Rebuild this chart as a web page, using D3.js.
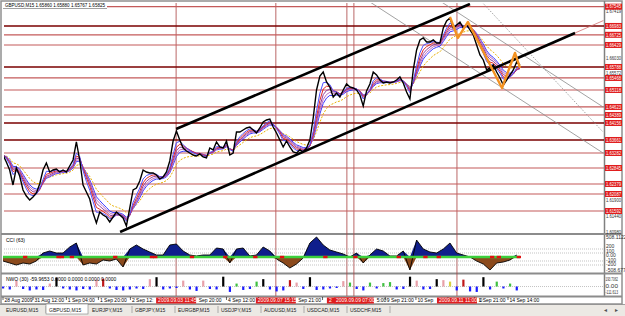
<!DOCTYPE html>
<html>
<head>
<meta charset="utf-8">
<title>GBPUSD,M15</title>
<script src="https://cdn.jsdelivr.net/npm/d3@7"></script>
<style>
    body { margin: 0; background: #fff; }
    svg text { font-family: "Liberation Sans", Arial, sans-serif; font-size: 5px; }
</style>
</head>
<body>
<div id="chart"></div>
<script>
// closes, one sample every ~6-7 M15 bars
let closes = [
    1.63224, 1.63020, 1.62787, 1.62350, 1.62845, 1.62612, 1.62204, 1.62029, 1.61912, 1.62000,
    1.62116, 1.62379, 1.62787, 1.62991, 1.62728, 1.62787, 1.62816, 1.62728, 1.62787, 1.62728,
    1.62903, 1.63078, 1.63603, 1.63078, 1.62350, 1.62146, 1.61942, 1.61534, 1.61242, 1.61563,
    1.61475, 1.61417, 1.61271, 1.61417, 1.61563, 1.61475, 1.61388, 1.61155, 1.61679, 1.62204,
    1.62262, 1.62466, 1.62787, 1.62728, 1.62699, 1.62699, 1.62641, 1.62524, 1.62583, 1.62728,
    1.63049, 1.63632, 1.63923, 1.63661, 1.63428, 1.63340, 1.63282, 1.63224, 1.63195, 1.63253,
    1.63166, 1.63136, 1.63428, 1.63370, 1.63603, 1.63457, 1.63428, 1.63632, 1.63224, 1.63282,
    1.63894, 1.63894, 1.63952, 1.64011, 1.64040, 1.63952, 1.63865, 1.64011, 1.64185, 1.64244,
    1.64273, 1.64040, 1.63865, 1.63661, 1.63457, 1.63632, 1.63457, 1.63311, 1.63282, 1.63370,
    1.63311, 1.63428, 1.63661, 1.64302, 1.65118, 1.65526, 1.65642, 1.65351, 1.65205, 1.64914,
    1.65030, 1.64914, 1.65118, 1.65293, 1.65205, 1.65176, 1.65118, 1.64972, 1.64652, 1.65089,
    1.65293, 1.65642, 1.65555, 1.65409, 1.65322, 1.65351, 1.65322, 1.65351, 1.65409, 1.65497,
    1.65322, 1.65060, 1.64856, 1.65701, 1.66284, 1.66575, 1.66633, 1.66517, 1.66517, 1.66575,
    1.66487, 1.66487, 1.66925, 1.67129, 1.67216, 1.66925, 1.67012, 1.67099, 1.66925, 1.67012,
    1.66866, 1.66721, 1.66429, 1.66138, 1.65992, 1.65701, 1.65759, 1.65846, 1.65642, 1.65468,
    1.65264, 1.65409, 1.65555, 1.65701, 1.65934, 1.65846
]

// CCI(63), every second sample
let cciVals = [
    -100, -150, -200, -150, -175, -100, 100, 150, 100, 100,
    250, 350, -200, -150, -175, -75, -100, -50, -250, 200,
    300, 200, 125, 50, 50, 300, 325, 150, 50, 25,
    50, 50, 225, 200, -150, 200, 225, 25, 50, 250,
    150, -50, -150, -275, -175, -25, 350, 500, 300, 175,
    125, 75, 0, 100, -150, 50, 200, 150, 25, 25,
    150, -325, 425, 200, 125, 100, 200, 350, 100, 50,
    0, -100, -175, -325, -150, -125, -75, 50
]
// samples where the CCI base line turns red
let cciRed = [6, 16, 17, 20, 33, 44, 45, 56, 66, 75, 83, 96, 105, 118, 126, 130, 146, 148, 154]

// NWO(30), every second sample, with bar state (b down, g up, p pink, k black, r red, y yellow)
let nwoVals = [
    -40, -60, 120, -50, -80, -60, -70, 60, 180, -40,
    -60, -80, -50, -60, 140, 160, -40, -70, -80, -60,
    -40, -50, 150, 190, -60, -40, -30, 120, -60, -90,
    120, -50, -60, 200, -110, 60, -70, -50, 100, 150,
    -60, -100, -80, 130, 80, -50, 190, -70, -60, -40,
    -30, 110, 80, -50, -80, 80, -40, 70, 90, -60,
    -50, 200, 120, -60, -50, 150, 130, 100, -80, 140,
    -100, -110, 190, -60, 100, -40, 60, -80
]
let nwoState = "bbpbbbbpkbbbbbprbbbbbbpkbbbpbbpbbkbgbbgkbbbrpbkbbbbpgbbgbggbbkpbbkpybrbbkbgbgb".split("")

// support / resistance levels
let levelPrices = [1.67545, 1.66983, 1.66725, 1.66429, 1.65788, 1.65468, 1.65118, 1.64623,
    1.64389, 1.64156, 1.63661, 1.63282, 1.62845, 1.62379, 1.62087, 1.61592]
let strongLevels = [1.66983, 1.65788, 1.64156, 1.63661]
let priceTicks = [1.67419, 1.66030, 1.65572, 1.61900, 1.61440, 1.60980]

let timeTicks = [
    [0, "28 Aug 2009"], [9, "31 Aug 12:00"], [19, "1 Sep 04:00"], [28.6, "1 Sep 20:00"],
    [38.2, "2 Sep 12:00"], [47.8, "3 Sep 04:00"], [57.4, "3 Sep 20:00"], [67, "4 Sep 12:00"],
    [76.6, "7 Sep 05:00"], [86.2, "7 Sep 21:00"], [95.8, "8 Sep 13:00"], [105.4, "9 Sep 05:00"],
    [114.6, "9 Sep 21:00"], [123.8, "10 Sep 13:00"], [133.4, "11 Sep 05:00"], [141.4, "11 Sep 21:00"],
    [151.4, "14 Sep 14:00"]
]
let vLines = [[51.9, "2009.09.03 11:45"], [81.8, "2009.09.07 15:15"], [103.1, "2009.09.09 07:00"],
    [105.2, "2009.09.09 07:00"], [136.1, "2009.09.11 11:00"]]

let zigzag = [[134.0, 1.67245], [136.4, 1.66633], [139.4, 1.67099], [149.6, 1.65176], [153.5, 1.66196], [155.0, 1.65759]]
let upperChannel = [[51.9, 1.63981], [140.0, 1.67624]]
let lowerChannel = [[35.1, 1.60980], [171.5, 1.66779]]
let lowerRay = [[171.5, 1.66779], [180.0, 1.67140]]
let greyLines = [[[131.0, 1.67711], [179.9, 1.64623]], [[109.1, 1.67740], [179.9, 1.63282]]]
let dottedLine = [[143.0, 1.67740], [179.9, 1.63894]]

let tabs = ["EURUSD,M15", "GBPUSD,M15", "EURJPY,M15", "GBPJPY,M15", "EURGBP,M15",
    "USDJPY,M15", "AUDUSD,M15", "USDCAD,M15", "USDCHF,M15"]

function ema(arr, n) {
    let k = 2 / (n + 1), out = [], prev = arr[0]
    arr.forEach(v => { prev = prev + k * (v - prev); out.push(prev) })
    return out
}

// trims a label so it does not run under any of the given [x0, x1] boxes
function keepOutside(text, boxes) {
    let node = text.node()
    let s = node.textContent
    let x = +text.attr("x")
    boxes.forEach(b => {
        let w = node.getComputedTextLength()
        if (x < b[1] && x + w > b[0]) {
            if (x >= b[0]) {
                while (s.length && x < b[1]) {
                    let cw = node.getSubStringLength(0, 1)
                    s = s.slice(1); x += cw
                    text.text(s).attr("x", x)
                }
            } else {
                while (s.length && x + node.getComputedTextLength() > b[0] - 0.5) {
                    s = s.slice(0, -1)
                    text.text(s)
                }
            }
        }
    })
    if (!s.trim().length) text.remove()
}

function getChartConfig() {
    let width = 625, height = 316
    let svg = d3.select("#chart").append("svg")
        .attr("width", width).attr("height", height)
    let main = { left: 4, right: 604, top: 3, bottom: 233 }
    return { width, height, svg, main }
}

function getChartScales() {
    let xScale = d3.scaleLinear().domain([0, closes.length - 1]).range([3, 520])
    let yScale = d3.scaleLinear().domain([1.6098, 1.67419]).range([232, 11])
    let cciScale = d3.scaleLinear().domain([-375, 525]).range([272, 236])
    let nwoScale = d3.scaleLinear().domain([-111.613, 193.7062]).range([292, 277])
    return { xScale, yScale, cciScale, nwoScale }
}

function drawFrame(config) {
    let { svg, main, width, height } = config
    svg.append("rect").attr("width", width).attr("height", height).attr("fill", "#fff")
    svg.append("rect").attr("x", 0).attr("y", 304).attr("width", width).attr("height", 12).attr("fill", "#ece9e4")
    svg.append("line").attr("x1", 0).attr("x2", width).attr("y1", 304.5).attr("y2", 304.5).attr("stroke", "#a0a0a0")
    svg.append("rect").attr("x", 1).attr("y", 1).attr("width", 621).attr("height", 303)
        .attr("fill", "none").attr("stroke", "#909090").attr("stroke-width", 1.5)
    svg.append("line").attr("x1", main.right + 0.5).attr("x2", main.right + 0.5).attr("y1", 1).attr("y2", 297)
        .attr("stroke", "#808080").attr("stroke-width", 1.5)
    ;[234, 273.5, 296.5].forEach(y => {
        svg.append("line").attr("x1", 1).attr("x2", 622).attr("y1", y).attr("y2", y)
            .attr("stroke", "#8c8c8c").attr("stroke-width", 2)
    })
}

function drawMain(config, scales) {
    let { svg, main } = config
    let { xScale, yScale } = scales
    svg.append("clipPath").attr("id", "mainClip").append("rect")
        .attr("x", main.left).attr("y", main.top).attr("width", main.right - main.left).attr("height", main.bottom - main.top)
    let g = svg.append("g").attr("clip-path", "url(#mainClip)")

    levelPrices.forEach(p => {
        let strong = strongLevels.includes(p)
        g.append("line").attr("x1", main.left).attr("x2", main.right)
            .attr("y1", yScale(p)).attr("y2", yScale(p))
            .attr("stroke", strong ? "#7a0000" : "#c45a5a").attr("stroke-width", strong ? 1.6 : 1.2)
    })
    let pt = d => [xScale(d[0]), yScale(d[1])]
    greyLines.forEach(l => {
        g.append("path").attr("d", d3.line()(l.map(pt))).attr("stroke", "#8a8a8a").attr("stroke-width", 0.8).attr("fill", "none")
    })
    g.append("path").attr("d", d3.line()(dottedLine.map(pt))).attr("stroke", "#8a8a8a")
        .attr("stroke-width", 0.8).attr("stroke-dasharray", "1.5,1.5").attr("fill", "none")

    // moving averages
    let line = d3.line().x((d, i) => xScale(i)).y(d => yScale(d))
    g.append("path").attr("d", line(ema(closes, 11))).attr("fill", "none").attr("stroke", "#e8b000")
        .attr("stroke-width", 1).attr("stroke-dasharray", "2,1.5")
    let ribbon = [[7, "#3a3aff"], [6, "#c070c0"], [5, "#9040a0"], [4, "#e02828"], [3, "#5050ff"]]
    ribbon.forEach(r => {
        g.append("path").attr("d", line(ema(closes, r[0]))).attr("fill", "none")
            .attr("stroke", r[1]).attr("stroke-width", 1)
    })
    g.append("path").attr("d", line(closes)).attr("fill", "none").attr("stroke", "#000").attr("stroke-width", 1.4)

    ;[upperChannel, lowerChannel].forEach(l => {
        g.append("path").attr("d", d3.line()(l.map(pt))).attr("stroke", "#000").attr("stroke-width", 2.6).attr("fill", "none")
    })
    g.append("path").attr("d", d3.line()(lowerRay.map(pt))).attr("stroke", "#d07070").attr("stroke-width", 0.8).attr("fill", "none")
    g.append("path").attr("d", d3.line()(zigzag.map(pt))).attr("stroke", "#f39221").attr("stroke-width", 2.4)
        .attr("fill", "none").attr("stroke-linejoin", "round")

    // title
    let title = "GBPUSD,M15  1.65860 1.65880 1.65767 1.65825"
    svg.append("rect").attr("x", 3).attr("y", 2).attr("width", 104).attr("height", 6.5).attr("fill", "#fff")
    svg.append("line").attr("x1", 3).attr("x2", 107).attr("y1", 8.5).attr("y2", 8.5).attr("stroke", "#606060").attr("stroke-width", 0.6)
    svg.append("text").attr("x", 5).attr("y", 7.3).attr("font-size", 4.6)
        .attr("textLength", 100).attr("lengthAdjust", "spacingAndGlyphs").text(title)

    // price axis: red level labels, grey grid labels kept clear of them
    let tops = levelPrices.map(p => yScale(p) - 3)
    priceTicks.forEach(p => {
        let base = yScale(p) + 1.7
        tops.forEach(t => { if (base > t - 0.3 && base < t + 6) base = Math.min(base, t - 0.3) })
        svg.append("text").attr("x", 606).attr("y", base).attr("fill", "#303030").attr("font-size", 4.4)
            .attr("textLength", 15).attr("lengthAdjust", "spacingAndGlyphs").text(p.toFixed(5))
    })
    levelPrices.forEach(p => {
        svg.append("rect").attr("x", 605).attr("y", yScale(p) - 3).attr("width", 17).attr("height", 6).attr("fill", "#e01d1d")
        svg.append("text").attr("x", 606).attr("y", yScale(p) + 1.7).attr("fill", "#fff").attr("font-size", 4.6)
            .attr("textLength", 15).attr("lengthAdjust", "spacingAndGlyphs").text(p.toFixed(5))
    })
}

function drawVLines(config, scales) {
    let { svg } = config
    let { xScale } = scales
    vLines.forEach(v => {
        svg.append("line").attr("x1", xScale(v[0])).attr("x2", xScale(v[0])).attr("y1", 3).attr("y2", 296)
            .attr("stroke", "#a84040").attr("stroke-width", 0.8)
    })
}

function drawCCI(config, scales) {
    let { svg } = config
    let { xScale, cciScale } = scales
    let g = svg.append("g")
    let xi = (d, i) => xScale(i * 2)
    let zero = cciScale(0)
    ;[200, 100, -100, -200].forEach(l => {
        g.append("line").attr("x1", 4).attr("x2", 604).attr("y1", cciScale(l)).attr("y2", cciScale(l))
            .attr("stroke", "#9a9a9a").attr("stroke-width", 0.6).attr("stroke-dasharray", "1,1")
    })
    g.append("path").attr("d", d3.area().x(xi).y0(zero).y1(d => cciScale(Math.max(d, 0)))(cciVals)).attr("fill", "#0f1e8c")
    g.append("path").attr("d", d3.area().x(xi).y0(zero).y1(d => cciScale(Math.min(d, 0)))(cciVals)).attr("fill", "#8b4a1c")
    g.append("path").attr("d", d3.line().x(xi).y(d => cciScale(d))(cciVals)).attr("fill", "none").attr("stroke", "#000").attr("stroke-width", 0.9)
    g.append("line").attr("x1", xScale(0)).attr("x2", xScale(closes.length - 1)).attr("y1", zero).attr("y2", zero)
        .attr("stroke", "#3ccf3c").attr("stroke-width", 2.4)
    cciRed.forEach(i => {
        g.append("line").attr("x1", xScale(i)).attr("x2", xScale(i + 1.3)).attr("y1", zero).attr("y2", zero)
            .attr("stroke", "#e01010").attr("stroke-width", 2.4)
    })
    svg.append("text").attr("x", 6).attr("y", 242).attr("font-size", 5).text("CCI (63)")
    let lbl = [[239, "508.1122"], [248, "200"], [252.5, "100"], [257, "0.00"],
        [261.5, "-100"], [266, "-200"], [271.9, "-508.677"]]
    lbl.forEach(l => svg.append("text").attr("x", 606).attr("y", l[0]).attr("font-size", 2.9).attr("fill", "#303030").text(l[1]))
}

function drawNWO(config, scales) {
    let { svg } = config
    let { xScale, nwoScale } = scales
    let colors = { b: "#1a1aff", g: "#40c040", p: "#e8a0a8", k: "#000", r: "#c01818", y: "#d8d040" }
    let zero = nwoScale(0)
    svg.append("line").attr("x1", 4).attr("x2", 604).attr("y1", zero).attr("y2", zero)
        .attr("stroke", "#9a9a9a").attr("stroke-width", 0.6).attr("stroke-dasharray", "1,1")
    nwoVals.forEach((v, i) => {
        let x = xScale(i * 2)
        svg.append("rect").attr("x", x - 1).attr("width", 2.2)
            .attr("y", Math.min(zero, nwoScale(v))).attr("height", Math.abs(nwoScale(v) - zero))
            .attr("fill", colors[nwoState[i]])
    })
    svg.append("text").attr("x", 6).attr("y", 280.5).attr("font-size", 4.3).text("NWO (30) -59.9653 0.0000 0.0000 0.0000 0.0000")
    let lbl = [[280.6, "193.7062"], [zero + 1.8, "0.00"], [293.5, "-111.613"]]
    lbl.forEach(l => svg.append("text").attr("x", 605.5).attr("y", l[0]).attr("font-size", 3.3).attr("fill", "#303030")
        .attr("textLength", 12.5).attr("lengthAdjust", "spacingAndGlyphs").text(l[1]))
}

function drawTimeAxis(config, scales) {
    let { svg } = config
    let { xScale } = scales
    let boxes = vLines.map(v => [xScale(v[0]) - 20, xScale(v[0]) + 20])
    timeTicks.forEach(t => {
        let x = xScale(t[0])
        svg.append("line").attr("x1", x).attr("x2", x).attr("y1", 297).attr("y2", 300).attr("stroke", "#000").attr("stroke-width", 0.6)
        let txt = svg.append("text").attr("x", x + 1.5).attr("y", 302.3).attr("font-size", 4.5).text(t[1])
        keepOutside(txt, boxes)
    })
    vLines.forEach((v, k) => {
        let x = xScale(v[0])
        svg.append("rect").attr("x", x - 20).attr("y", 297.5).attr("width", 40).attr("height", 6).attr("fill", "#e01d1d")
        let txt = svg.append("text").attr("x", x - 18).attr("y", 302.3).attr("font-size", 4.5).attr("fill", "#fff").text(v[1])
        keepOutside(txt, boxes.slice(k + 1))
    })
}

function drawTabs(config) {
    let { svg } = config
    tabs.forEach((t, i) => {
        let x = 3 + i * 43
        if (i == 1) {
            svg.append("rect").attr("x", x).attr("y", 304).attr("width", 42).attr("height", 10)
                .attr("fill", "#fff").attr("stroke", "#808080").attr("stroke-width", 0.6)
        } else {
            svg.append("line").attr("x1", x + 43).attr("x2", x + 43).attr("y1", 306).attr("y2", 313).attr("stroke", "#808080").attr("stroke-width", 0.6)
        }
        svg.append("text").attr("x", x + 3).attr("y", 311.5).attr("font-size", 5.3).attr("fill", "#202020").text(t)
    })
    svg.append("text").attr("x", 603).attr("y", 311.5).attr("font-size", 5).attr("fill", "#505050").text("◄")
    svg.append("text").attr("x", 614).attr("y", 311.5).attr("font-size", 5).attr("fill", "#505050").text("►")
}

function showChart() {
    let config = getChartConfig()
    let scales = getChartScales()
    drawFrame(config)
    drawVLines(config, scales)
    drawMain(config, scales)
    drawCCI(config, scales)
    drawNWO(config, scales)
    drawTimeAxis(config, scales)
    drawTabs(config)
}
showChart()
</script>
</body>
</html>
